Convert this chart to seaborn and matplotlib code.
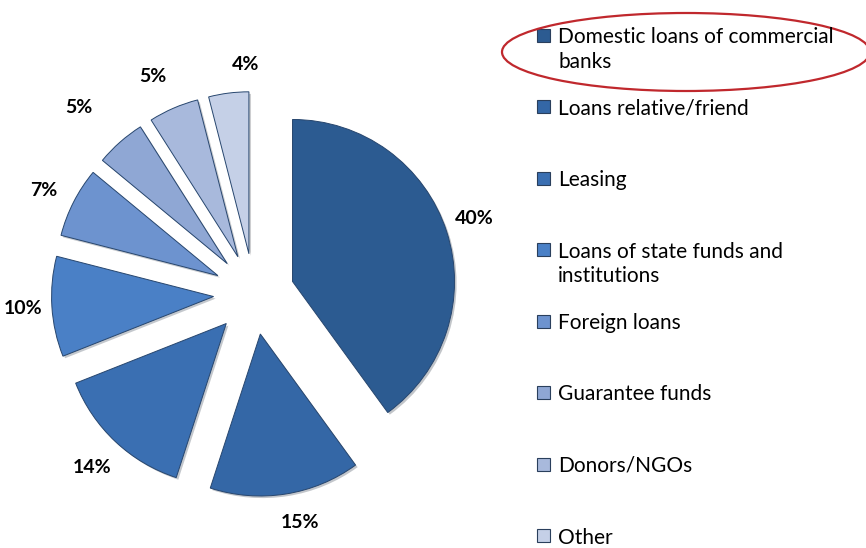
"""
Exploded pie: sources of financing, with a hand-drawn legend on the right
"""

import matplotlib
matplotlib.use('Agg')
import matplotlib.pyplot as plt
import matplotlib.patheffects as pe
from matplotlib.patches import Ellipse, Rectangle
import seaborn as sns

# data
sources = ['Domestic loans of commercial\nbanks', 'Loans relative/friend', 'Leasing',
           'Loans of state funds and\ninstitutions', 'Foreign loans', 'Guarantee funds',
           'Donors/NGOs', 'Other']
shares = [40, 15, 14, 10, 7, 5, 5, 4]
colors = ['#2c5b91', '#3467a6', '#3a6fb2', '#4a80c6', '#6d93cf', '#8fa7d4', '#a8b9dc', '#c5d0e7']

W, H = 866, 548
cx, cy, R = 254, 294, 162   # pie centre and radius in pixels

# small pixel nudges so the % labels sit where the original placed them
label_nudge = [(0, -4), (10, 0), (-3, 5), (0, 0), (-4, 2), (-22, -13), (-9, -5), (21, 0)]

sns.set_theme(style='white')
plt.rcParams['font.family'] = ['Lato', 'DejaVu Sans']

fig = plt.figure(figsize=(W / 100, H / 100), dpi=100)
fig.patch.set_facecolor('white')
ax = fig.add_axes([0, 0, 1, 1])

wedges, _, autotexts = ax.pie(
    shares, colors=colors, startangle=90, counterclock=False,
    explode=[0.25] * len(shares), radius=1,
    autopct=lambda p: f'{p:.0f}%', pctdistance=1.18,
    wedgeprops=dict(edgecolor='#27466e', linewidth=0.7),
    textprops=dict(fontsize=14, fontweight='bold', color='black'))

for w in wedges:
    w.set_path_effects([pe.SimplePatchShadow(offset=(1.5, -1.5), alpha=0.25), pe.Normal()])

for t, (dx, dy) in zip(autotexts, label_nudge):
    x, y = t.get_position()
    t.set_position((x + dx / R, y - dy / R))

ax.set_xlim(-cx / R, (W - cx) / R)
ax.set_ylim(-(H - cy) / R, cy / R)
ax.axis('off')

# legend drawn by hand so the marker sits on the first line of wrapped labels
step = 71.5
for i, (label, c) in enumerate(zip(sources, colors)):
    ym = 35 + i * step
    fig.patches.append(Rectangle((537 / W, 1 - (ym + 6.5) / H), 13 / W, 13 / H,
                                 transform=fig.transFigure, facecolor=c,
                                 edgecolor='#2a3f5c', linewidth=0.8))
    for k, line in enumerate(label.split('\n')):
        fig.text(558 / W, 1 - (ym + 8 + k * 25) / H, line, fontsize=15,
                 va='baseline', ha='left', color='black')

# red highlight round the first entry
fig.patches.append(Ellipse((686 / W, 1 - 52 / H), 368 / W, 78 / H,
                           transform=fig.transFigure, fill=False,
                           edgecolor='#c0282d', linewidth=1.6))

fig.savefig('out.png', dpi=100)
